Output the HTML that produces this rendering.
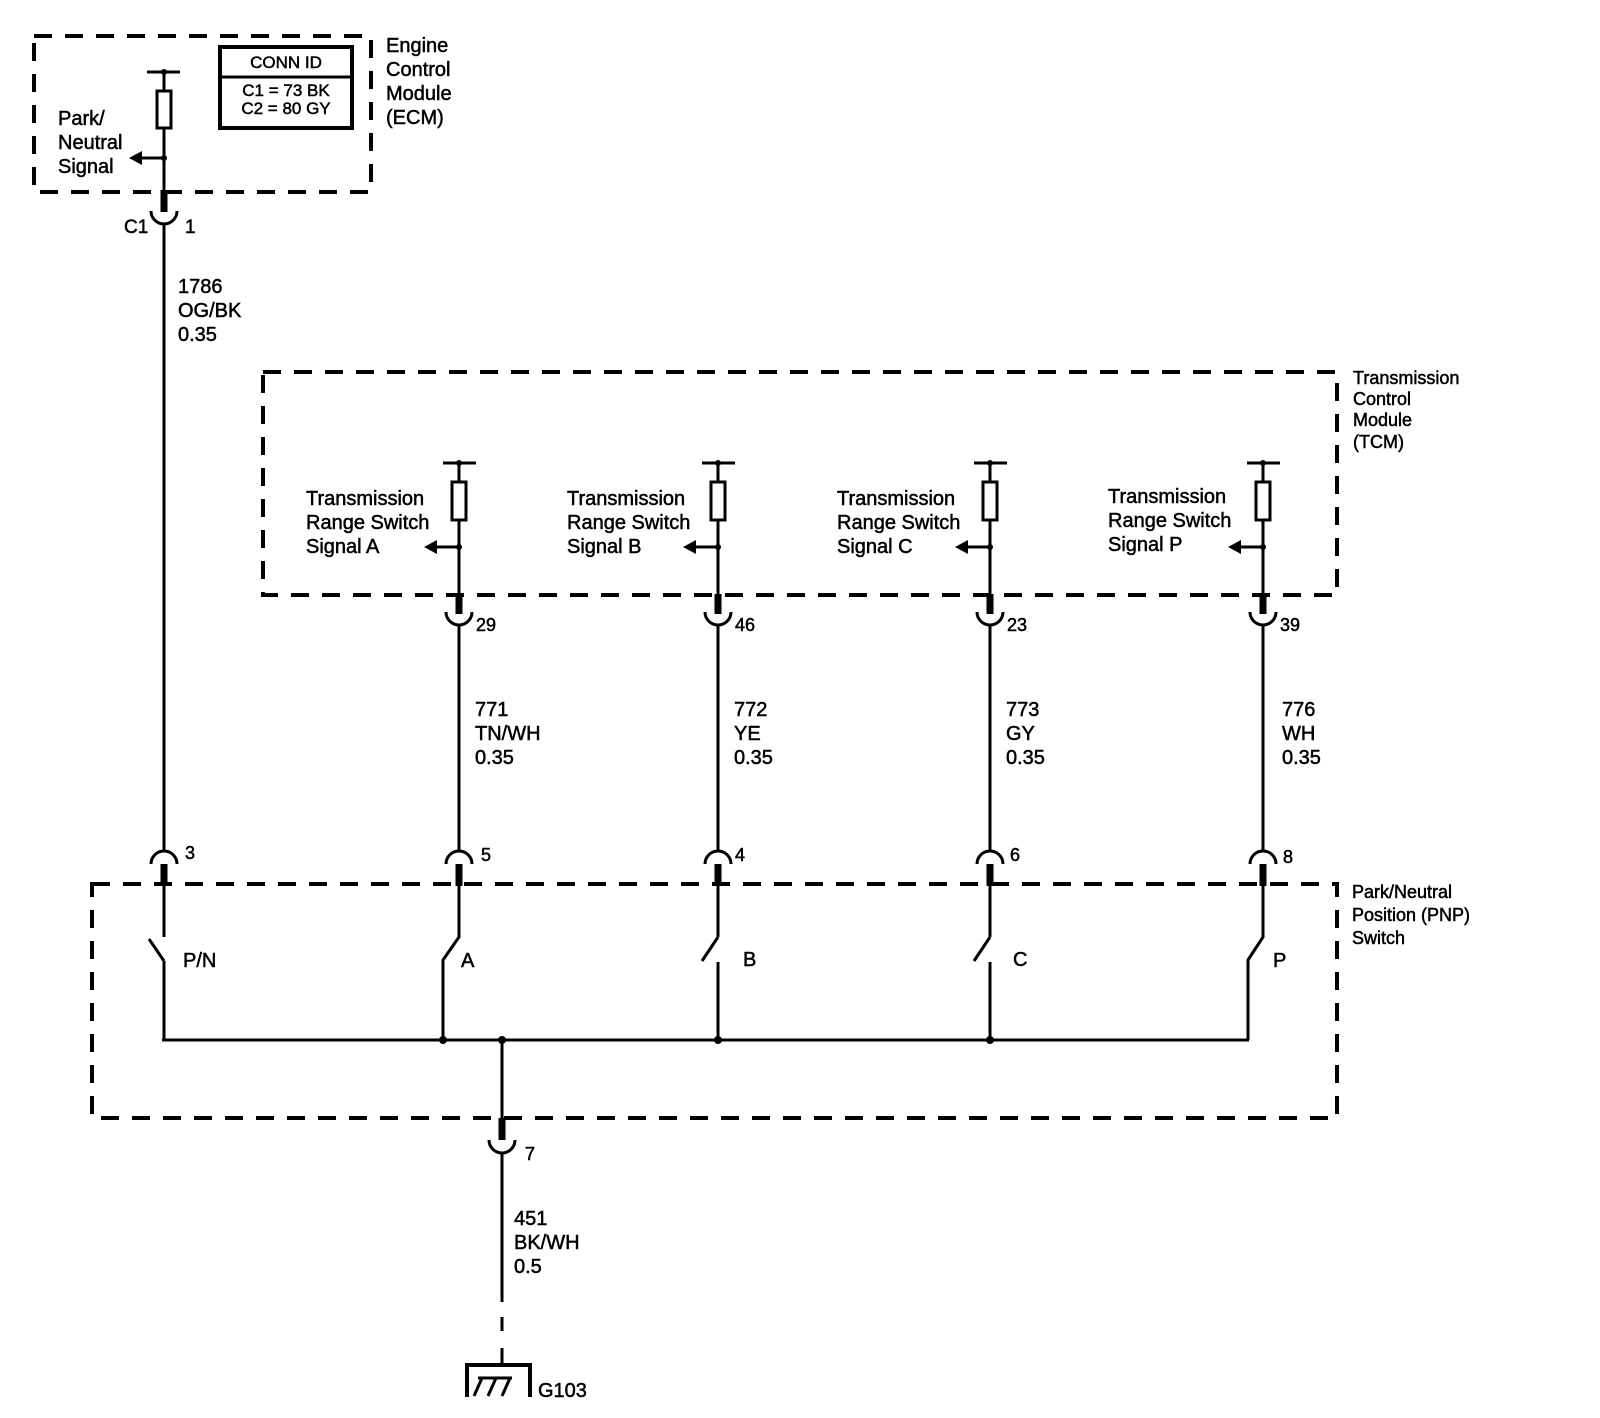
<!DOCTYPE html>
<html><head><meta charset="utf-8"><style>
html,body{margin:0;padding:0;background:#fff;}
svg{display:block;}
text{font-family:"Liberation Sans",Arial,sans-serif;fill:#000;stroke:#000;stroke-width:0.5px;}
</style></head><body>
<svg width="1600" height="1418" viewBox="0 0 1600 1418" xmlns="http://www.w3.org/2000/svg">
<defs>
<g id="arrow"><polygon points="0,0 13,-7 13,7" fill="#000"/></g>
</defs>
<g fill="none" stroke="#000" stroke-width="4" stroke-dasharray="18,13">
<rect x="34" y="36" width="337" height="156"/>
<rect x="263" y="372" width="1074" height="223"/>
<rect x="92" y="884" width="1245" height="234"/>
</g>
<g stroke="#000" stroke-width="3" fill="none">
<line x1="147" y1="72" x2="180" y2="72"/>
<line x1="164" y1="72" x2="164" y2="91"/>
<rect x="157" y="91" width="14" height="37" fill="#fff"/>
<line x1="164" y1="128" x2="164" y2="193"/>
<line x1="164" y1="158" x2="140" y2="158"/>
<path d="M151,211 A13,13 0 0 0 177,211"/>
<line x1="164" y1="224" x2="164" y2="851"/>
<rect x="220" y="47" width="132" height="81" stroke-width="4"/>
<line x1="220" y1="77" x2="352" y2="77" stroke-width="3"/>
</g>
<line x1="164" y1="190" x2="164" y2="212" stroke="#000" stroke-width="7"/>
<circle cx="164" cy="158" r="3" fill="#000"/>
<circle cx="164" cy="72" r="3" fill="#000"/>
<use href="#arrow" x="129" y="158"/>

<g id="colA">
<g stroke="#000" stroke-width="3" fill="none">
<line x1="443" y1="463" x2="476" y2="463"/>
<line x1="459" y1="463" x2="459" y2="482"/>
<rect x="452" y="482" width="14" height="38" fill="#fff"/>
<line x1="459" y1="520" x2="459" y2="596"/>
<line x1="459" y1="547" x2="437" y2="547"/>
<path d="M446,612 A13,13 0 0 0 472,612"/>
<line x1="459" y1="625" x2="459" y2="851"/>
</g>
<line x1="459" y1="594" x2="459" y2="614" stroke="#000" stroke-width="7"/>
<circle cx="459" cy="547" r="3" fill="#000"/>
<circle cx="459" cy="463" r="3" fill="#000"/>
<use href="#arrow" x="424" y="547"/>
</g>
<use href="#colA" x="259" y="0"/>
<use href="#colA" x="531" y="0"/>
<use href="#colA" x="804" y="0"/>

<g id="capc">
<path d="M151,864 A13,13 0 0 1 177,864" stroke="#000" stroke-width="3" fill="none"/>
<line x1="164" y1="864" x2="164" y2="886" stroke="#000" stroke-width="7"/>
</g>
<use href="#capc" x="295" y="0"/>
<use href="#capc" x="554" y="0"/>
<use href="#capc" x="826" y="0"/>
<use href="#capc" x="1099" y="0"/>

<g stroke="#000" stroke-width="3" fill="none">
<line x1="164" y1="884" x2="164" y2="937"/>
<line x1="149" y1="939" x2="164" y2="961"/>
<line x1="164" y1="961" x2="164" y2="1040"/>
<path d="M459,884 V937 L443,960 V1040"/>
<line x1="718" y1="884" x2="718" y2="937"/>
<line x1="718" y1="937" x2="702" y2="961"/>
<line x1="718" y1="962" x2="718" y2="1040"/>
<line x1="990" y1="884" x2="990" y2="937"/>
<line x1="990" y1="937" x2="974" y2="961"/>
<line x1="990" y1="962" x2="990" y2="1040"/>
<path d="M1263,884 V937 L1248,960 V1040"/>
<line x1="162" y1="1040" x2="1249" y2="1040"/>
<line x1="502" y1="1040" x2="502" y2="1120"/>
<path d="M489,1140 A13,13 0 0 0 515,1140"/>
<line x1="502" y1="1153" x2="502" y2="1302"/>
<line x1="502" y1="1317" x2="502" y2="1331"/>
<line x1="502" y1="1348" x2="502" y2="1366"/>
<path d="M467,1397 V1365 H530 V1397" stroke-width="4"/>
<line x1="474" y1="1396" x2="482" y2="1378"/>
<line x1="488" y1="1396" x2="496" y2="1378"/>
<line x1="502" y1="1396" x2="510" y2="1378"/>
<line x1="478" y1="1378" x2="512" y2="1378"/>
</g>
<line x1="502" y1="1118" x2="502" y2="1140" stroke="#000" stroke-width="7"/>
<g fill="#000">
<circle cx="443" cy="1040" r="4"/>
<circle cx="502" cy="1040" r="4"/>
<circle cx="718" cy="1040" r="4"/>
<circle cx="990" cy="1040" r="4"/>
</g>

<g font-size="20">
<text x="386" y="52">Engine</text>
<text x="386" y="76">Control</text>
<text x="386" y="100">Module</text>
<text x="386" y="124">(ECM)</text>
<text x="58" y="125">Park/</text>
<text x="58" y="149">Neutral</text>
<text x="58" y="173">Signal</text>
<text x="124" y="233" font-size="19">C1</text>
<text x="185" y="233" font-size="19">1</text>
<text x="178" y="293">1786</text>
<text x="178" y="317">OG/BK</text>
<text x="178" y="341">0.35</text>
</g>
<g font-size="17" text-anchor="middle">
<text x="286" y="68">CONN ID</text>
<text x="286" y="96">C1 = 73 BK</text>
<text x="286" y="114">C2 = 80 GY</text>
</g>
<g font-size="18">
<text x="1353" y="384">Transmission</text>
<text x="1353" y="405">Control</text>
<text x="1353" y="426">Module</text>
<text x="1353" y="448">(TCM)</text>
<text x="1352" y="898">Park/Neutral</text>
<text x="1352" y="921">Position (PNP)</text>
<text x="1352" y="944">Switch</text>
</g>
<g font-size="20">
<text x="306" y="505">Transmission</text><text x="306" y="529">Range Switch</text><text x="306" y="553">Signal A</text>
<text x="567" y="505">Transmission</text><text x="567" y="529">Range Switch</text><text x="567" y="553">Signal B</text>
<text x="837" y="505">Transmission</text><text x="837" y="529">Range Switch</text><text x="837" y="553">Signal C</text>
<text x="1108" y="503">Transmission</text><text x="1108" y="527">Range Switch</text><text x="1108" y="551">Signal P</text>
</g>
<g font-size="18">
<text x="476" y="631">29</text>
<text x="735" y="631">46</text>
<text x="1007" y="631">23</text>
<text x="1280" y="631">39</text>
<text x="185" y="859">3</text>
<text x="481" y="861">5</text>
<text x="735" y="861">4</text>
<text x="1010" y="861">6</text>
<text x="1283" y="863">8</text>
<text x="525" y="1160">7</text>
</g>
<g font-size="20">
<text x="475" y="716">771</text><text x="475" y="740">TN/WH</text><text x="475" y="764">0.35</text>
<text x="734" y="716">772</text><text x="734" y="740">YE</text><text x="734" y="764">0.35</text>
<text x="1006" y="716">773</text><text x="1006" y="740">GY</text><text x="1006" y="764">0.35</text>
<text x="1282" y="716">776</text><text x="1282" y="740">WH</text><text x="1282" y="764">0.35</text>
<text x="514" y="1225">451</text><text x="514" y="1249">BK/WH</text><text x="514" y="1273">0.5</text>
<text x="183" y="967">P/N</text>
<text x="461" y="967">A</text>
<text x="743" y="966">B</text>
<text x="1013" y="966">C</text>
<text x="1273" y="967">P</text>
<text x="538" y="1397">G103</text>
</g>
</svg>
</body></html>
